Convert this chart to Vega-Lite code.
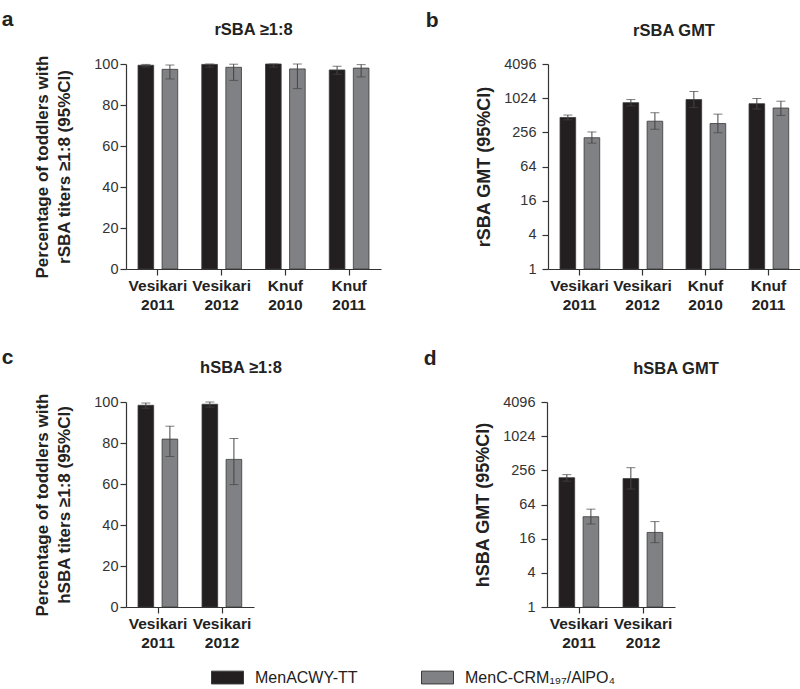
{
  "$schema": "https://vega.github.io/schema/vega-lite/v6.json",
  "background": "white",
  "padding": {"left": 1, "top": 8, "right": 0, "bottom": 0},
  "config": {
    "font": "Liberation Sans",
    "view": {"stroke": null},
    "axis": {"grid": false, "domainColor": "#333", "tickColor": "#333", "domainWidth": 1.2, "tickWidth": 1.2, "tickSize": 6, "labelColor": "#333", "titleColor": "#222", "labelFont": "Liberation Sans", "titleFont": "Liberation Sans"},
    "title": {"font": "Liberation Sans", "fontSize": 16.5, "fontWeight": "bold", "color": "#222", "offset": 17},
    "legend": {"labelFont": "Liberation Sans"}
  },
  "datasets": {
    "a": [
      {"study": "Vesikari 2011", "vaccine": "MenACWY-TT", "value": 99.4, "lo": 98.5, "hi": 99.8},
      {"study": "Vesikari 2011", "vaccine": "MenC-CRM₁₉₇/AlPO₄", "value": 97.4, "lo": 92.7, "hi": 99.5},
      {"study": "Vesikari 2012", "vaccine": "MenACWY-TT", "value": 99.8, "lo": 98.5, "hi": 100},
      {"study": "Vesikari 2012", "vaccine": "MenC-CRM₁₉₇/AlPO₄", "value": 98.4, "lo": 92.0, "hi": 99.9},
      {"study": "Knuf 2010", "vaccine": "MenACWY-TT", "value": 100, "lo": 98.5, "hi": 100},
      {"study": "Knuf 2010", "vaccine": "MenC-CRM₁₉₇/AlPO₄", "value": 97.6, "lo": 88.0, "hi": 100},
      {"study": "Knuf 2011", "vaccine": "MenACWY-TT", "value": 97.1, "lo": 95.0, "hi": 98.9},
      {"study": "Knuf 2011", "vaccine": "MenC-CRM₁₉₇/AlPO₄", "value": 98.0, "lo": 93.7, "hi": 99.7}
    ],
    "b": [
      {"study": "Vesikari 2011", "vaccine": "MenACWY-TT", "value": 468, "lo": 425, "hi": 516},
      {"study": "Vesikari 2011", "vaccine": "MenC-CRM₁₉₇/AlPO₄", "value": 206, "lo": 165, "hi": 260},
      {"study": "Vesikari 2012", "vaccine": "MenACWY-TT", "value": 853, "lo": 750, "hi": 967},
      {"study": "Vesikari 2012", "vaccine": "MenC-CRM₁₉₇/AlPO₄", "value": 402, "lo": 290, "hi": 567},
      {"study": "Knuf 2010", "vaccine": "MenACWY-TT", "value": 967, "lo": 700, "hi": 1342},
      {"study": "Knuf 2010", "vaccine": "MenC-CRM₁₉₇/AlPO₄", "value": 366, "lo": 252, "hi": 536},
      {"study": "Knuf 2011", "vaccine": "MenACWY-TT", "value": 818, "lo": 660, "hi": 1010},
      {"study": "Knuf 2011", "vaccine": "MenC-CRM₁₉₇/AlPO₄", "value": 687, "lo": 508, "hi": 905}
    ],
    "c": [
      {"study": "Vesikari 2011", "vaccine": "MenACWY-TT", "value": 98.4, "lo": 97.0, "hi": 99.5},
      {"study": "Vesikari 2011", "vaccine": "MenC-CRM₁₉₇/AlPO₄", "value": 81.9, "lo": 73.4, "hi": 88.2},
      {"study": "Vesikari 2012", "vaccine": "MenACWY-TT", "value": 98.9, "lo": 97.5, "hi": 100},
      {"study": "Vesikari 2012", "vaccine": "MenC-CRM₁₉₇/AlPO₄", "value": 72.0, "lo": 59.7, "hi": 82.2}
    ],
    "d": [
      {"study": "Vesikari 2011", "vaccine": "MenACWY-TT", "value": 190, "lo": 165, "hi": 215},
      {"study": "Vesikari 2011", "vaccine": "MenC-CRM₁₉₇/AlPO₄", "value": 39, "lo": 29, "hi": 53},
      {"study": "Vesikari 2012", "vaccine": "MenACWY-TT", "value": 183, "lo": 120, "hi": 285},
      {"study": "Vesikari 2012", "vaccine": "MenC-CRM₁₉₇/AlPO₄", "value": 20.6, "lo": 13.6, "hi": 32}
    ]
  },
  "spacing": 33,
  "vconcat": [
    {
      "spacing": 44,
      "hconcat": [
        {
          "title": {"text": "a", "anchor": "start", "dx": -32, "fontSize": 21, "offset": -8},
          "vconcat": [
            {
              "width": 255, "height": 205,
              "title": {"text": "rSBA ≥1:8"},
              "data": {"name": "a"},
              "encoding": {
                "x": {"field": "study", "type": "nominal", "sort": null, "scale": {"paddingInner": 0, "paddingOuter": 0}, "axis": {"title": null, "labelAngle": 0, "labelFontWeight": "bold", "labelFontSize": 15.5, "labelColor": "#222", "labelLineHeight": 19, "labelPadding": 3, "labelExpr": "split(datum.label, ' ')"}},
                "xOffset": {"field": "vaccine", "type": "nominal", "sort": null, "scale": {"paddingInner": 0.35, "paddingOuter": 0.5}}
              },
              "layer": [
                {
                  "mark": {"type": "bar", "stroke": "#3a3a3a", "strokeWidth": 0.8},
                  "encoding": {
                    "y": {"field": "value", "type": "quantitative", "scale": {"domain": [0, 100]}, "title": ["Percentage of toddlers with", "rSBA titers ≥1:8 (95%CI)"], "axis": {"values": [0, 20, 40, 60, 80, 100], "labelFontSize": 14.5, "labelPadding": 2, "titleFontSize": 17, "titleFontWeight": "bold", "titleLineHeight": 22, "titlePadding": 20}},
                    "color": {"field": "vaccine", "type": "nominal", "scale": {"domain": ["MenACWY-TT", "MenC-CRM₁₉₇/AlPO₄"], "range": ["#231f20", "#808184"]}, "legend": {"title": null, "orient": "none", "direction": "horizontal", "legendX": 85, "legendY": 597, "padding": 0, "symbolType": "M-1,-0.4H1V0.4H-1Z", "symbolSize": 1024, "symbolStrokeColor": "#333", "symbolStrokeWidth": 1, "symbolOpacity": 1, "labelFontSize": 16, "labelColor": "#222", "labelOffset": 11, "columnPadding": 61}}
                  }
                },
                {"mark": {"type": "rule", "color": "#444", "strokeWidth": 1}, "encoding": {"y": {"field": "lo", "type": "quantitative", "title": ["Percentage of toddlers with", "rSBA titers ≥1:8 (95%CI)"]}, "y2": {"field": "hi"}}},
                {"mark": {"type": "tick", "color": "#444", "size": 9, "thickness": 1}, "encoding": {"y": {"field": "lo", "type": "quantitative", "title": ["Percentage of toddlers with", "rSBA titers ≥1:8 (95%CI)"]}}},
                {"mark": {"type": "tick", "color": "#444", "size": 9, "thickness": 1}, "encoding": {"y": {"field": "hi", "type": "quantitative", "title": ["Percentage of toddlers with", "rSBA titers ≥1:8 (95%CI)"]}}}
              ]
            }
          ]
        },
        {
          "title": {"text": "b", "anchor": "start", "dx": -50, "fontSize": 21, "offset": -8},
          "vconcat": [
            {
              "width": 252, "height": 205,
              "title": {"text": "rSBA GMT"},
              "data": {"name": "b"},
              "encoding": {
                "x": {"field": "study", "type": "nominal", "sort": null, "scale": {"paddingInner": 0, "paddingOuter": 0}, "axis": {"title": null, "labelAngle": 0, "labelFontWeight": "bold", "labelFontSize": 15.5, "labelColor": "#222", "labelLineHeight": 19, "labelPadding": 3, "labelExpr": "split(datum.label, ' ')"}},
                "xOffset": {"field": "vaccine", "type": "nominal", "sort": null, "scale": {"paddingInner": 0.35, "paddingOuter": 0.5}}
              },
              "layer": [
                {
                  "mark": {"type": "bar", "stroke": "#3a3a3a", "strokeWidth": 0.8},
                  "encoding": {
                    "y": {"field": "value", "type": "quantitative", "scale": {"type": "log", "base": 2, "domain": [1, 4096], "nice": false}, "title": "rSBA GMT (95%CI)", "axis": {"values": [1, 4, 16, 64, 256, 1024, 4096], "format": "d", "labelFontSize": 14.5, "labelPadding": 6, "titleFontSize": 18, "titleFontWeight": "bold", "titlePadding": 10}},
                    "y2": {"datum": 1},
                    "color": {"field": "vaccine", "type": "nominal"}
                  }
                },
                {"mark": {"type": "rule", "color": "#444", "strokeWidth": 1}, "encoding": {"y": {"field": "lo", "type": "quantitative", "title": "rSBA GMT (95%CI)"}, "y2": {"field": "hi"}}},
                {"mark": {"type": "tick", "color": "#444", "size": 9, "thickness": 1}, "encoding": {"y": {"field": "lo", "type": "quantitative", "title": "rSBA GMT (95%CI)"}}},
                {"mark": {"type": "tick", "color": "#444", "size": 9, "thickness": 1}, "encoding": {"y": {"field": "hi", "type": "quantitative", "title": "rSBA GMT (95%CI)"}}}
              ]
            }
          ]
        }
      ]
    },
    {
      "spacing": 140,
      "hconcat": [
        {
          "title": {"text": "c", "anchor": "start", "dx": -32, "fontSize": 21, "offset": -8},
          "vconcat": [
            {
              "width": 128, "height": 205,
              "title": {"text": "hSBA ≥1:8", "anchor": "middle", "dx": 51},
              "data": {"name": "c"},
              "encoding": {
                "x": {"field": "study", "type": "nominal", "sort": null, "scale": {"paddingInner": 0, "paddingOuter": 0}, "axis": {"title": null, "labelAngle": 0, "labelFontWeight": "bold", "labelFontSize": 15.5, "labelColor": "#222", "labelLineHeight": 19, "labelPadding": 3, "labelExpr": "split(datum.label, ' ')"}},
                "xOffset": {"field": "vaccine", "type": "nominal", "sort": null, "scale": {"paddingInner": 0.35, "paddingOuter": 0.5}}
              },
              "layer": [
                {
                  "mark": {"type": "bar", "stroke": "#3a3a3a", "strokeWidth": 0.8},
                  "encoding": {
                    "y": {"field": "value", "type": "quantitative", "scale": {"domain": [0, 100]}, "title": ["Percentage of toddlers with", "hSBA titers ≥1:8 (95%CI)"], "axis": {"values": [0, 20, 40, 60, 80, 100], "labelFontSize": 14.5, "labelPadding": 2, "titleFontSize": 17, "titleFontWeight": "bold", "titleLineHeight": 22, "titlePadding": 20}},
                    "color": {"field": "vaccine", "type": "nominal"}
                  }
                },
                {"mark": {"type": "rule", "color": "#444", "strokeWidth": 1}, "encoding": {"y": {"field": "lo", "type": "quantitative", "title": ["Percentage of toddlers with", "hSBA titers ≥1:8 (95%CI)"]}, "y2": {"field": "hi"}}},
                {"mark": {"type": "tick", "color": "#444", "size": 9, "thickness": 1}, "encoding": {"y": {"field": "lo", "type": "quantitative", "title": ["Percentage of toddlers with", "hSBA titers ≥1:8 (95%CI)"]}}},
                {"mark": {"type": "tick", "color": "#444", "size": 9, "thickness": 1}, "encoding": {"y": {"field": "hi", "type": "quantitative", "title": ["Percentage of toddlers with", "hSBA titers ≥1:8 (95%CI)"]}}}
              ]
            }
          ]
        },
        {
          "title": {"text": "d", "anchor": "start", "dx": -51, "fontSize": 21, "offset": -8},
          "vconcat": [
            {
              "width": 128, "height": 205,
              "title": {"text": "hSBA GMT", "anchor": "middle", "dx": 65},
              "data": {"name": "d"},
              "encoding": {
                "x": {"field": "study", "type": "nominal", "sort": null, "scale": {"paddingInner": 0, "paddingOuter": 0}, "axis": {"title": null, "labelAngle": 0, "labelFontWeight": "bold", "labelFontSize": 15.5, "labelColor": "#222", "labelLineHeight": 19, "labelPadding": 3, "labelExpr": "split(datum.label, ' ')"}},
                "xOffset": {"field": "vaccine", "type": "nominal", "sort": null, "scale": {"paddingInner": 0.35, "paddingOuter": 0.5}}
              },
              "layer": [
                {
                  "mark": {"type": "bar", "stroke": "#3a3a3a", "strokeWidth": 0.8},
                  "encoding": {
                    "y": {"field": "value", "type": "quantitative", "scale": {"type": "log", "base": 2, "domain": [1, 4096], "nice": false}, "title": "hSBA GMT (95%CI)", "axis": {"values": [1, 4, 16, 64, 256, 1024, 4096], "format": "d", "labelFontSize": 14.5, "labelPadding": 6, "titleFontSize": 18, "titleFontWeight": "bold", "titlePadding": 10}},
                    "y2": {"datum": 1},
                    "color": {"field": "vaccine", "type": "nominal"}
                  }
                },
                {"mark": {"type": "rule", "color": "#444", "strokeWidth": 1}, "encoding": {"y": {"field": "lo", "type": "quantitative", "title": "hSBA GMT (95%CI)"}, "y2": {"field": "hi"}}},
                {"mark": {"type": "tick", "color": "#444", "size": 9, "thickness": 1}, "encoding": {"y": {"field": "lo", "type": "quantitative", "title": "hSBA GMT (95%CI)"}}},
                {"mark": {"type": "tick", "color": "#444", "size": 9, "thickness": 1}, "encoding": {"y": {"field": "hi", "type": "quantitative", "title": "hSBA GMT (95%CI)"}}}
              ]
            }
          ]
        }
      ]
    }
  ]
}
